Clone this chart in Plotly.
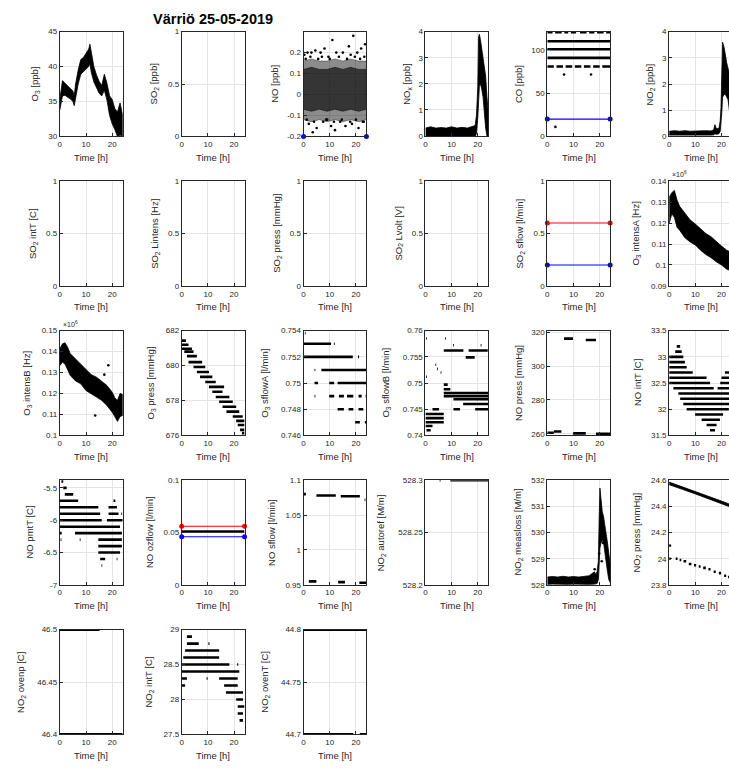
import plotly.graph_objects as go

# ---------------------------------------------------------------
# Värriö station, 25-05-2019 : gas analyser housekeeping (time in h)
# ---------------------------------------------------------------
TITLE = "Värriö 25-05-2019"
X_TICKS = [0, 10, 20]

# O3 [ppb] – envelope of the 1-min cloud
O3_T = [0, 0.5, 1, 2, 3, 4, 5, 5.5, 6, 7, 8, 9, 10, 11, 11.5, 12, 13, 14, 15, 16, 17, 18, 19, 20, 21, 22, 23, 24]
O3_HI = [35.3, 36.5, 38.0, 37.6, 37.2, 36.8, 36.5, 35.8, 37.5, 39.5, 41.0, 41.3, 42.0, 42.5, 43.2, 42.0, 40.0, 38.8,
         37.9, 37.3, 38.9, 37.6, 35.8, 35.3, 34.0, 33.5, 34.8, 33.0]
O3_LO = [33.8, 34.6, 35.8, 35.9, 35.6, 35.4, 35.0, 34.4, 35.2, 37.5, 38.9, 39.3, 39.6, 40.0, 40.4, 39.2, 37.8, 37.0,
         36.2, 35.8, 36.6, 35.2, 33.0, 31.8, 31.0, 30.0, 30.2, 30.0]

# NO [ppb] – dense core and sparser fringe of the noise cloud
NO_T = [0, 3, 6, 9, 12, 15, 18, 21, 24]
NO_CORE_HI = [0.12, 0.13, 0.12, 0.12, 0.13, 0.12, 0.13, 0.12, 0.12]
NO_CORE_LO = [-0.07, -0.08, -0.07, -0.08, -0.07, -0.08, -0.07, -0.08, -0.07]
NO_EDGE_HI = [0.16, 0.17, 0.16, 0.16, 0.17, 0.16, 0.17, 0.16, 0.16]
NO_EDGE_LO = [-0.12, -0.13, -0.12, -0.13, -0.12, -0.13, -0.12, -0.13, -0.12]
NO_OUT_T = [0.3, 1.5, 3.0, 4.5, 6.5, 8.0, 9.5, 11.0, 12.5, 15.0, 17.3, 18.0, 19.0, 20.5, 22.0, 23.5,
            2.0, 3.5, 5.0, 7.5, 10.5, 12.0, 14.0, 16.0, 18.5, 21.0, 23.0, 9.0,
            0.8, 2.6, 5.6, 7.0, 10.0, 13.5, 16.6, 19.6, 21.6, 23.2, 1.2, 4.0, 8.6, 11.6, 14.6, 17.8, 20.0, 22.6]
NO_OUT_V = [0.19, 0.20, 0.20, 0.21, 0.20, 0.22, 0.18, 0.26, 0.20, 0.20, 0.23, 0.19, 0.28, 0.20, 0.22, 0.24,
            -0.14, -0.18, -0.16, -0.13, -0.15, -0.17, -0.13, -0.15, -0.14, -0.16, -0.13, -0.12,
            0.17, 0.18, 0.17, 0.18, 0.17, 0.18, 0.17, 0.18, 0.17, 0.18,
            -0.12, -0.13, -0.12, -0.13, -0.12, -0.13, -0.12, -0.13]
NO_LIMIT_BLUE = -0.2

# NOx [ppb]
NOX_T = [0, 2, 4, 6, 8, 10, 12, 14, 16, 18, 19, 19.5, 20, 20.3, 20.6, 21, 21.5, 22, 22.5, 23, 23.5, 24]
NOX_HI = [0.30, 0.35, 0.30, 0.32, 0.30, 0.35, 0.30, 0.33, 0.30, 0.38, 0.40, 0.8, 1.9, 3.8, 3.9, 3.7, 3.3, 2.9, 2.7,
          2.3, 1.5, 0.9]
NOX_LO = [-0.05, -0.05, -0.06, -0.05, -0.05, -0.06, -0.05, -0.05, -0.06, -0.05, -0.04, 0.1, 0.7, 1.0, 1.9, 2.0,
          1.8, 1.5, 1.0, 0.3, 0.0, 0.0]

# CO [ppb] – quantised levels (value, start h, end h)
CO_SEGS = [(120.5, 0, 2), (120.5, 3, 5.5), (120.5, 6.5, 8), (120.5, 9, 11), (120.5, 12.5, 15), (120.5, 16, 18),
           (120.5, 19, 21.5), (120.5, 22.5, 24),
           (110.0, 0, 24), (100.7, 0, 24), (90.7, 0, 24),
           (80.7, 0, 2.5), (80.7, 3.5, 6), (80.7, 7, 9.5), (80.7, 10.5, 13), (80.7, 14, 16.5), (80.7, 17.5, 20),
           (80.7, 21, 24)]
CO_DOT_T = [6.4, 16.7, 3.1]
CO_DOT_V = [71.5, 71.5, 11.0]
CO_LIMIT_BLUE = 20

# NO2 [ppb]
NO2_T = [0, 2, 4, 6, 8, 10, 12, 14, 16, 17, 17.5, 18, 19, 19.5, 19.8, 20.1, 20.4, 21, 21.5, 22, 22.5, 23, 24]
NO2_HI = [0.20, 0.22, 0.20, 0.22, 0.20, 0.21, 0.20, 0.22, 0.21, 0.25, 0.45, 0.30, 0.30, 0.6, 1.1, 3.0, 3.6, 3.4,
          3.0, 2.8, 2.6, 2.4, 1.5]
NO2_LO = [0.05, 0.06, 0.05, 0.05, 0.06, 0.05, 0.05, 0.06, 0.05, 0.06, 0.10, 0.08, 0.10, 0.2, 0.5, 0.9, 1.5, 1.6,
          1.6, 1.5, 1.4, 1.0, 0.3]

# SO2 sample flow limits [l/min]
SO2_SFLOW_RED = 0.6
SO2_SFLOW_BLUE = 0.2

# O3 lamp intensities [Hz] (x 10^6)
IA_T = [0, 1, 2, 3, 4, 6, 8, 10, 12, 14, 16, 18, 20, 22, 24]
IA_HI = [0.1322, 0.1345, 0.1356, 0.1310, 0.1280, 0.1245, 0.1215, 0.1195, 0.1170, 0.1150, 0.1135, 0.1110, 0.1090,
         0.1070, 0.1060]
IA_LO = [0.1197, 0.1244, 0.1227, 0.1180, 0.1166, 0.1130, 0.1110, 0.1095, 0.1070, 0.1050, 0.1035, 0.1015, 0.1000,
         0.0980, 0.0970]
IB_T = [0, 1, 2, 3, 4, 6, 8, 10, 12, 14, 16, 18, 20, 21, 22, 23, 24]
IB_HI = [0.1413, 0.1437, 0.1442, 0.1420, 0.1390, 0.1365, 0.1340, 0.1317, 0.1290, 0.1278, 0.1260, 0.1238, 0.1206,
         0.1180, 0.1167, 0.1200, 0.1195]
IB_LO = [0.1333, 0.1350, 0.1340, 0.1310, 0.1286, 0.1260, 0.1246, 0.1214, 0.1200, 0.1183, 0.1167, 0.1143, 0.1110,
         0.1090, 0.1067, 0.1090, 0.1095]
IB_DOT_T = [18.5, 13.5, 17.0]
IB_DOT_V = [0.1335, 0.1095, 0.1290]

# O3 cell pressure [mmHg]
O3P_SEGS = [(681.43, 0, 1.6), (681.19, 0, 2.6), (680.96, 0, 3.9), (680.80, 1.0, 4.5), (680.54, 2.0, 5.8),
            (680.20, 2.6, 7.8), (679.92, 4.5, 9.0), (679.63, 5.8, 10.4), (679.35, 7.0, 11.7), (679.06, 9.0, 13.0),
            (678.78, 10.4, 16.2), (678.50, 11.7, 15.6), (678.20, 13.0, 18.2), (677.93, 14.3, 19.5),
            (677.64, 15.6, 20.8), (677.36, 17.1, 22.0), (677.08, 19.5, 23.3), (676.83, 20.8, 24),
            (676.60, 21.4, 24), (676.32, 22.3, 24), (676.13, 23.0, 24)]

# O3 sample flows [l/min]
O3FA_SEGS = [(0.7538, 0.5, 0.8), (0.753, 0, 10.5), (0.753, 11.6, 11.9), (0.752, 0, 18.8), (0.752, 20.8, 21.2),
             (0.751, 4.2, 4.5), (0.751, 6.8, 24), (0.750, 4.2, 5.5), (0.750, 9.8, 11.7), (0.750, 13.0, 24),
             (0.749, 4.2, 4.5), (0.749, 9.8, 11.7), (0.749, 13.5, 15.4), (0.749, 16.6, 19.0), (0.749, 21.0, 22.2),
             (0.749, 23.7, 24), (0.748, 13.0, 15.4), (0.748, 17.2, 19.0), (0.748, 21.0, 22.8),
             (0.747, 19.7, 21.5), (0.747, 23.4, 24)]
O3FB_SEGS = [(0.7585, 0.3, 0.6), (0.7585, 7.5, 7.8), (0.7572, 10.6, 10.9), (0.7572, 21.1, 21.4),
             (0.7562, 7.0, 14.5), (0.7562, 16.5, 23.8), (0.7549, 15.4, 18.8),
             (0.7535, 3.8, 4.1), (0.7527, 4.5, 4.8), (0.7520, 5.8, 6.1), (0.7512, 0.3, 0.6),
             (0.7497, 7.0, 8.5), (0.7488, 7.0, 9.5), (0.7481, 7.0, 24), (0.7475, 7.0, 24), (0.7469, 10.7, 24),
             (0.7460, 14.4, 24), (0.7450, 2.7, 5.2), (0.7450, 10.7, 13.2), (0.7450, 19.0, 24),
             (0.7441, 0, 7.0), (0.7433, 0, 7.0), (0.7425, 0, 7.0), (0.7418, 0, 2.7), (0.7410, 0.4, 2.0)]

# NO analyser
NOP_SEGS = [(316.3, 6.4, 9.8), (315.5, 14.7, 18.6), (260.6, 0, 2.5), (261.3, 2.5, 5.4), (260.2, 9.8, 14.7),
            (260.0, 18.6, 24)]
NOT_SEGS = [(33.2, 2.9, 4.2), (33.1, 2.3, 4.8), (33.0, 0, 5.4), (32.9, 0, 6.0), (32.8, 0, 6.7), (32.7, 0, 9.0),
            (32.7, 21.3, 24), (32.6, 0, 14.3), (32.6, 20.0, 24), (32.5, 0, 15.6), (32.5, 19.5, 24),
            (32.4, 1.6, 17.0), (32.4, 18.5, 24), (32.3, 3.5, 23.5), (32.2, 4.2, 24), (32.1, 5.4, 23.4),
            (32.0, 6.7, 22.8), (31.9, 9.9, 20.6), (31.8, 12.4, 19.4), (31.7, 14.3, 18.1), (31.6, 15.6, 17.5)]
PMT_SEGS = [(-5.4, 0.6, 1.3), (-5.5, 1.3, 2.6), (-5.6, 1.9, 5.1), (-5.7, 0, 7.0), (-5.7, 20.5, 21.2),
            (-5.8, 0, 14.7), (-5.8, 18.6, 21.8), (-5.9, 0, 15.4), (-5.9, 18.6, 22.4), (-5.9, 23.5, 23.8),
            (-6.0, 0, 16.0), (-6.0, 18.0, 24), (-6.1, 0, 23.0), (-6.2, 0, 0.7), (-6.2, 5.8, 23.7),
            (-6.3, 0.3, 0.6), (-6.3, 7.6, 7.9), (-6.3, 14.7, 23.7), (-6.4, 14.7, 23.7), (-6.5, 14.7, 23.0),
            (-6.6, 15.4, 17.3), (-6.6, 21.7, 22.0), (-6.7, 15.9, 16.2)]
OZF_DATA = 0.051
OZF_RED = 0.056
OZF_BLUE = 0.046
NOSF_SEGS = [(1.080, 0, 0.9), (1.078, 4.9, 12.3), (1.077, 14.2, 21.5), (1.072, 23.3, 23.6),
             (0.955, 2.0, 4.9), (0.954, 13.2, 15.8), (0.953, 21.3, 24)]

# NO2 (CAPS) analyser
AREF_SEGS = [(528.3, 5.4, 5.8), (528.3, 9.5, 24)]
ML_T = [0, 2, 4, 6, 8, 10, 12, 14, 16, 18, 18.5, 19, 19.5, 19.8, 20.1, 20.5, 21, 21.5, 22, 22.5, 23, 23.5, 24]
ML_HI = [528.30, 528.32, 528.30, 528.33, 528.30, 528.32, 528.30, 528.33, 528.35, 528.50, 528.40, 528.50, 528.90,
         530.5, 531.7, 531.3, 530.8, 530.6, 530.3, 530.0, 529.6, 529.2, 528.8]
ML_LO = [528.02, 528.03, 528.02, 528.03, 528.02, 528.03, 528.02, 528.03, 528.02, 528.03, 528.05, 528.05, 528.20,
         528.6, 529.4, 529.6, 529.7, 529.6, 529.3, 528.9, 528.5, 528.2, 528.1]
ML_DOT_T = [20.8, 21.3, 18.1, 19.8]
ML_DOT_V = [528.9, 529.6, 528.6, 529.2]
NP_T = [0, 5, 10, 15, 20, 24]
NP_HI = [24.585, 24.550, 24.515, 24.480, 24.440, 24.410]
NP_LO = [24.565, 24.530, 24.495, 24.460, 24.420, 24.390]
NP2_SEGS = [(24.00, 0, 0.6), (24.00, 2.5, 3.2), (23.99, 4.0, 4.6), (23.98, 5.5, 6.5), (23.96, 7.5, 8.5),
            (23.95, 9.5, 10.3), (23.94, 11.3, 12.0), (23.93, 13.0, 14.0), (23.92, 15.0, 15.8), (23.90, 17.0, 17.8),
            (23.89, 19.0, 19.8), (23.87, 21.0, 21.8), (23.86, 22.5, 23.5)]
NP_DOT_T = [0.3]
NP_DOT_V = [24.10]
OVP_SEGS = [(46.5, 0, 15.2), (46.4, 0, 24)]
N2T_SEGS = [(28.9, 2.0, 3.9), (28.8, 2.0, 6.5), (28.8, 10.2, 10.6), (28.7, 1.3, 14.3), (28.6, 0.6, 14.3),
            (28.5, 0, 18.2), (28.5, 21.2, 21.6), (28.4, 0, 22.0), (28.3, 0, 2.0), (28.3, 9.5, 9.9),
            (28.3, 14.3, 21.4), (28.2, 0, 1.3), (28.2, 16.2, 21.4), (28.1, 16.9, 23.4), (28.0, 20.8, 23.4),
            (27.9, 21.4, 24), (27.8, 21.4, 23.4), (27.7, 22.1, 23.4)]
OVT_SEGS = [(44.8, 0, 24), (44.7, 0, 19.0), (44.7, 21.5, 24)]

# y-axis ticks of every panel
UNIT_TICKS = [0, 0.5, 1]
O3_TICKS = [30, 35, 40, 45]
NO_TICKS = [-0.2, -0.1, 0, 0.1, 0.2]
PPB4_TICKS = [0, 1, 2, 3, 4]
CO_TICKS = [0, 50, 100]
IA_TICKS = [0.09, 0.1, 0.11, 0.12, 0.13, 0.14]
IB_TICKS = [0.1, 0.11, 0.12, 0.13, 0.14, 0.15]
O3P_TICKS = [676, 678, 680, 682]
O3FA_TICKS = [0.746, 0.748, 0.75, 0.752, 0.754]
O3FB_TICKS = [0.74, 0.745, 0.75, 0.755, 0.76]
NOP_TICKS = [260, 280, 300, 320]
NOT_TICKS = [31.5, 32, 32.5, 33, 33.5]
PMT_TICKS = [-7, -6.5, -6, -5.5]
OZF_TICKS = [0, 0.05, 0.1]
NOSF_TICKS = [0.95, 1, 1.05, 1.1]
AREF_TICKS = [528.2, 528.25, 528.3]
ML_TICKS = [528, 529, 530, 531, 532]
NP_TICKS = [23.8, 24, 24.2, 24.4, 24.6]
OVP_TICKS = [46.4, 46.45, 46.5]
N2T_TICKS = [27.5, 28, 28.5, 29]
OVT_TICKS = [44.7, 44.75, 44.8]

# ---------------------------------------------------------------
# panel list: (row, col, y label, y range, y ticks, items, exponent)
# ---------------------------------------------------------------
PANELS = [
    (0, 0, "O<sub>3</sub> [ppb]", [30, 45], O3_TICKS, [("band", O3_T, O3_HI, O3_LO)], None),
    (0, 1, "SO<sub>2</sub> [ppb]", [0, 1], UNIT_TICKS, [], None),
    (0, 2, "NO [ppb]", [-0.2, 0.3], NO_TICKS,
     [("band", NO_T, NO_EDGE_HI, NO_EDGE_LO, "rgba(0,0,0,0.45)"),
      ("band", NO_T, NO_CORE_HI, NO_CORE_LO, "rgba(0,0,0,0.62)"),
      ("dots", NO_OUT_T, NO_OUT_V),
      ("limit", NO_LIMIT_BLUE, "#0000ff")], None),
    (0, 3, "NO<sub>x</sub> [ppb]", [-0.02, 4], PPB4_TICKS, [("band", NOX_T, NOX_HI, NOX_LO)], None),
    (0, 4, "CO [ppb]", [0, 121], CO_TICKS,
     [("segs", CO_SEGS), ("dots", CO_DOT_T, CO_DOT_V), ("limit", CO_LIMIT_BLUE, "#0000ff")], None),
    (0, 5, "NO<sub>2</sub> [ppb]", [0, 4], PPB4_TICKS, [("band", NO2_T, NO2_HI, NO2_LO)], None),

    (1, 0, "SO<sub>2</sub> intT [C]", [0, 1], UNIT_TICKS, [], None),
    (1, 1, "SO<sub>2</sub> Lintens [Hz]", [0, 1], UNIT_TICKS, [], None),
    (1, 2, "SO<sub>2</sub> press [mmHg]", [0, 1], UNIT_TICKS, [], None),
    (1, 3, "SO<sub>2</sub> Lvolt [V]", [0, 1], UNIT_TICKS, [], None),
    (1, 4, "SO<sub>2</sub> sflow [l/min]", [0, 1], UNIT_TICKS,
     [("limit", SO2_SFLOW_RED, "#ff0000"), ("limit", SO2_SFLOW_BLUE, "#0000ff")], None),
    (1, 5, "O<sub>3</sub> intensA [Hz]", [0.09, 0.14], IA_TICKS, [("band", IA_T, IA_HI, IA_LO)], 6),

    (2, 0, "O<sub>3</sub> intensB [Hz]", [0.1, 0.15], IB_TICKS,
     [("band", IB_T, IB_HI, IB_LO), ("dots", IB_DOT_T, IB_DOT_V)], 6),
    (2, 1, "O<sub>3</sub> press [mmHg]", [676, 682], O3P_TICKS, [("segs", O3P_SEGS)], None),
    (2, 2, "O<sub>3</sub> sflowA [l/min]", [0.746, 0.754], O3FA_TICKS, [("segs", O3FA_SEGS)], None),
    (2, 3, "O<sub>3</sub> sflowB [l/min]", [0.74, 0.76], O3FB_TICKS, [("segs", O3FB_SEGS)], None),
    (2, 4, "NO press [mmHg]", [259, 321], NOP_TICKS, [("segs", NOP_SEGS)], None),
    (2, 5, "NO intT [C]", [31.5, 33.5], NOT_TICKS, [("segs", NOT_SEGS)], None),

    (3, 0, "NO pmtT [C]", [-7, -5.38], PMT_TICKS, [("segs", PMT_SEGS)], None),
    (3, 1, "NO ozflow [l/min]", [0, 0.1], OZF_TICKS,
     [("limit", OZF_RED, "#ff0000"), ("segs", [(OZF_DATA, 0, 24)]), ("limit", OZF_BLUE, "#0000ff")], None),
    (3, 2, "NO sflow [l/min]", [0.95, 1.1], NOSF_TICKS, [("segs", NOSF_SEGS)], None),
    (3, 3, "NO<sub>2</sub> autoref [M/m]", [528.2, 528.3], AREF_TICKS, [("segs", AREF_SEGS)], None),
    (3, 4, "NO<sub>2</sub> measloss [M/m]", [528, 532], ML_TICKS,
     [("band", ML_T, ML_HI, ML_LO), ("dots", ML_DOT_T, ML_DOT_V)], None),
    (3, 5, "NO<sub>2</sub> press [mmHg]", [23.8, 24.6], NP_TICKS,
     [("band", NP_T, NP_HI, NP_LO), ("segs", NP2_SEGS), ("dots", NP_DOT_T, NP_DOT_V)], None),

    (4, 0, "NO<sub>2</sub> ovenp [C]", [46.4, 46.5], OVP_TICKS, [("segs", OVP_SEGS)], None),
    (4, 1, "NO<sub>2</sub> intT [C]", [27.5, 29], N2T_TICKS, [("segs", N2T_SEGS)], None),
    (4, 2, "NO<sub>2</sub> ovenT [C]", [44.7, 44.8], OVT_TICKS, [("segs", OVT_SEGS)], None),
]

# ---------------------------------------------------------------
# layout geometry (pixels)
# ---------------------------------------------------------------
W, H = 729, 772
COL_LEFT = [58, 180.2, 302.4, 424.6, 546.8, 669]
AX_W = 63
ROW_TOP = [28, 179.25, 330.5, 481.75, 633]
AX_H = 106
T_MAX = 24
FONT = "Liberation Sans, Arial, sans-serif"
INK = "#262626"
TICK_SIZE = 8
LABEL_SIZE = 9.5


def text_px(s, size):
    w = 0.0
    for ch in s:
        if ch.isdigit():
            w += 0.556
        elif ch == ".":
            w += 0.278
        elif ch == "-":
            w += 0.333
        else:
            w += 0.55
    return w * size


def fmt(v):
    return f"{v:g}"


fig = go.Figure()
annotations = []
layout_axes = {}

for i, (row, col, ylab, yr, yticks, items, expo) in enumerate(PANELS):
    n = i + 1
    xa, ya = f"x{n}", f"y{n}"
    left = COL_LEFT[col]
    top = ROW_TOP[row]
    right = min(left + AX_W, W)
    x_max = T_MAX * (right - left) / AX_W
    cut = right < left + AX_W

    # an empty trace keeps the axes of panels without data on screen
    fig.add_trace(go.Scatter(x=[None], y=[None], mode="markers", xaxis=xa, yaxis=ya,
                             hoverinfo="skip", showlegend=False))

    for it in items:
        kind = it[0]
        if kind == "band":
            t, hi, lo = it[1], it[2], it[3]
            color = it[4] if len(it) > 4 else "black"
            fig.add_trace(go.Scatter(
                x=list(t) + list(t)[::-1], y=list(hi) + list(lo)[::-1],
                mode="lines", fill="toself", fillcolor=color,
                line=dict(color=color, width=0.8), xaxis=xa, yaxis=ya, hoverinfo="skip"))
        elif kind == "dots":
            fig.add_trace(go.Scatter(
                x=it[1], y=it[2], mode="markers",
                marker=dict(color="black", size=2.6), xaxis=xa, yaxis=ya, hoverinfo="skip"))
        elif kind == "segs":
            xs, ys = [], []
            for v, t0, t1 in it[1]:
                xs += [t0, t1, None]
                ys += [v, v, None]
            fig.add_trace(go.Scatter(
                x=xs, y=ys, mode="lines", line=dict(color="black", width=2.6),
                xaxis=xa, yaxis=ya, hoverinfo="skip"))
        elif kind == "limit":
            v, color = it[1], it[2]
            fig.add_trace(go.Scatter(
                x=[0, T_MAX], y=[v, v], mode="lines+markers",
                line=dict(color=color, width=1.1),
                marker=dict(color=color, size=5, symbol="circle"),
                cliponaxis=False, xaxis=xa, yaxis=ya, hoverinfo="skip"))

    axis_common = dict(
        showline=True, linecolor=INK, linewidth=1,
        ticks="inside", ticklen=3, tickwidth=0.8, tickcolor=INK,
        showgrid=True, gridcolor="#e4e4e4", gridwidth=1, zeroline=False,
        tickfont=dict(family=FONT, size=TICK_SIZE, color=INK), fixedrange=True,
    )
    layout_axes[f"xaxis{n}"] = dict(
        axis_common, anchor=ya, mirror=True,
        domain=[left / W, right / W], range=[0, x_max],
        tickmode="array", tickvals=X_TICKS, ticktext=[fmt(v) for v in X_TICKS])
    layout_axes[f"yaxis{n}"] = dict(
        axis_common, anchor=xa, mirror=not cut,
        domain=[1 - (top + AX_H) / H, 1 - top / H], range=yr,
        tickmode="array", tickvals=yticks, ticktext=[fmt(v) for v in yticks])

    # axis titles, pushed left of the widest tick label
    widest = max(text_px(fmt(v), TICK_SIZE) for v in yticks)
    off = 13 + 1.3 * widest + (0 if "<sub>" in ylab else -1)
    annotations.append(dict(
        text=ylab, textangle=-90, xref="paper", yref="paper",
        x=(left - off) / W, y=1 - (top + AX_H / 2) / H,
        xanchor="center", yanchor="middle", showarrow=False,
        font=dict(family=FONT, size=LABEL_SIZE, color=INK)))
    annotations.append(dict(
        text="Time [h]", xref="paper", yref="paper",
        x=(left + AX_W / 2) / W, y=1 - (top + AX_H + 21) / H,
        xanchor="center", yanchor="middle", showarrow=False,
        font=dict(family=FONT, size=LABEL_SIZE, color=INK)))
    if expo:
        annotations.append(dict(
            text=f"\u00d710<sup>{expo}</sup>", xref="paper", yref="paper",
            x=(left + 1) / W, y=1 - (top - 1) / H,
            xanchor="left", yanchor="bottom", showarrow=False,
            font=dict(family=FONT, size=7, color=INK)))

# figure title over the second column
annotations.append(dict(
    text=f"<b>{TITLE}</b>", xref="paper", yref="paper",
    x=(COL_LEFT[1] + AX_W / 2) / W, y=1 - 15 / H,
    xanchor="center", yanchor="middle", showarrow=False,
    font=dict(family=FONT, size=14.5, color="black")))

fig.update_layout(
    width=W, height=H,
    margin=dict(l=0, r=0, t=0, b=0),
    paper_bgcolor="white", plot_bgcolor="white",
    showlegend=False, annotations=annotations,
    **layout_axes)

fig.write_html("out.html")
